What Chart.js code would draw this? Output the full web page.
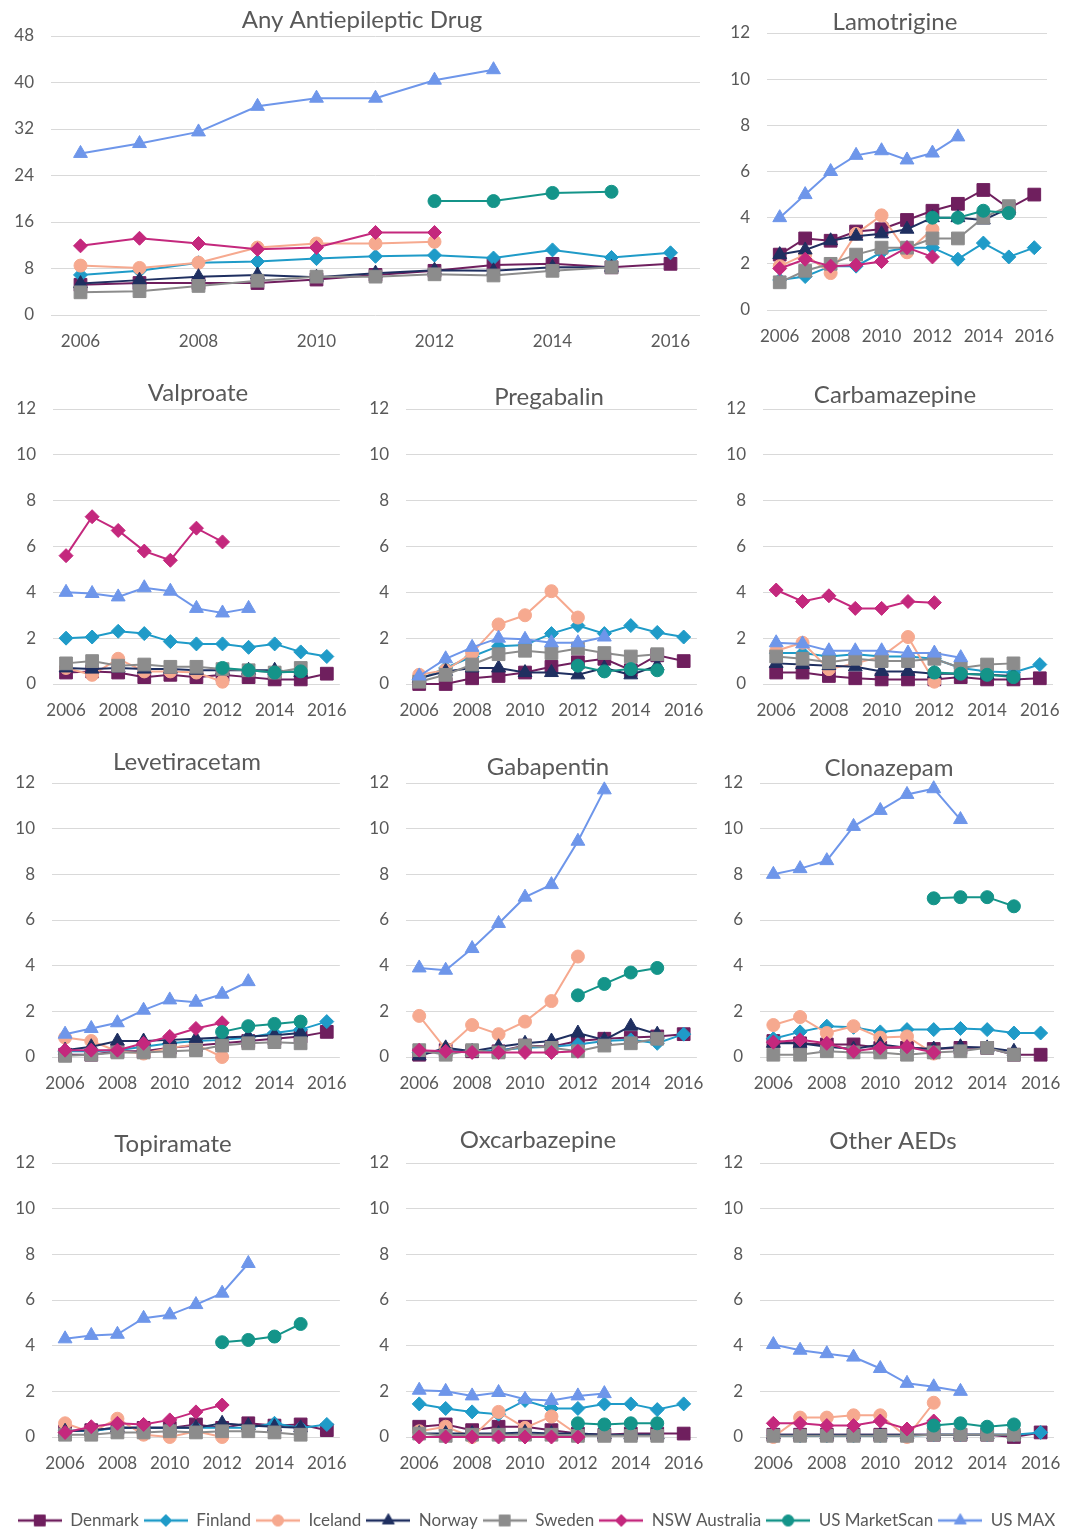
<!DOCTYPE html>
<html><head><meta charset="utf-8">
<script src="https://cdn.jsdelivr.net/npm/chart.js@4.4.1/dist/chart.umd.min.js"></script>
<style>
html,body{margin:0;padding:0;background:#fff;}
body{width:1073px;height:1532px;position:relative;overflow:hidden;font-family:Lato,sans-serif;}
.p{position:absolute;}
.p canvas{display:block;}
</style></head><body>
<script>
const N = null;
const years = ['2006','2007','2008','2009','2010','2011','2012','2013','2014','2015','2016'];
const countries = ['Denmark','Finland','Iceland','Norway','Sweden','NSW Australia','US MarketScan','US MAX'];

// rows: Denmark, Finland, Iceland, Norway, Sweden, NSW Australia, US MarketScan, US MAX
const anyAED = [
  [5.2,5.5,5.5,5.5,6.1,6.9,7.6,8.6,8.8,8.2,8.8],
  [6.9,7.6,9.0,9.2,9.7,10.1,10.3,9.8,11.2,9.9,10.7],
  [8.5,8.1,9.0,11.6,12.3,12.3,12.6,N,N,N,N],
  [5.4,6.0,6.6,6.9,6.5,7.2,7.7,7.6,8.2,8.2,N],
  [3.9,4.1,5.0,5.9,6.6,6.6,7.0,6.8,7.6,8.2,N],
  [11.9,13.2,12.3,11.3,11.6,14.2,14.2,N,N,N,N],
  [N,N,N,N,N,N,19.6,19.6,21.0,21.2,N],
  [27.8,29.5,31.5,35.9,37.3,37.3,40.4,42.2,N,N,N]
];
const lamotrigine = [
  [2.4,3.1,3.0,3.4,3.5,3.9,4.3,4.6,5.2,4.4,5.0],
  [1.3,1.45,1.9,1.9,2.5,2.7,2.7,2.2,2.9,2.3,2.7],
  [1.9,2.4,1.6,3.3,4.1,2.5,3.5,N,N,N,N],
  [2.4,2.6,3.0,3.2,3.3,3.5,4.0,4.0,3.9,4.4,N],
  [1.2,1.7,2.0,2.4,2.7,2.7,3.1,3.1,4.0,4.5,N],
  [1.8,2.2,1.9,1.95,2.1,2.7,2.3,N,N,N,N],
  [N,N,N,N,N,N,4.0,4.0,4.3,4.2,N],
  [4.0,5.0,6.0,6.7,6.9,6.5,6.8,7.5,N,N,N]
];
const valproate = [
  [0.5,0.55,0.5,0.3,0.4,0.3,0.4,0.3,0.2,0.2,0.45],
  [2.0,2.05,2.3,2.2,1.85,1.75,1.75,1.6,1.75,1.4,1.2],
  [0.7,0.4,1.1,0.55,0.55,0.5,0.1,N,N,N,N],
  [0.7,0.65,0.7,0.65,0.65,0.6,0.6,0.6,0.6,0.5,N],
  [0.9,1.0,0.8,0.85,0.75,0.75,0.65,0.6,0.5,0.7,N],
  [5.6,7.3,6.7,5.8,5.4,6.8,6.2,N,N,N,N],
  [N,N,N,N,N,N,0.7,0.6,0.5,0.55,N],
  [4.0,3.95,3.8,4.2,4.05,3.3,3.1,3.3,N,N,N]
];
const pregabalin = [
  [0.0,0.0,0.25,0.35,0.5,0.75,0.95,1.1,0.6,1.25,1.0],
  [0.2,0.7,1.2,1.65,1.7,2.2,2.55,2.2,2.55,2.25,2.05],
  [0.4,0.6,1.35,2.6,3.0,4.05,2.9,N,N,N,N],
  [0.25,0.55,0.7,0.7,0.5,0.5,0.4,0.7,0.4,0.8,N],
  [0.1,0.4,0.85,1.3,1.45,1.35,1.55,1.35,1.2,1.3,N],
  [N,N,N,N,N,N,N,N,N,N,N],
  [N,N,N,N,N,N,0.8,0.55,0.65,0.6,N],
  [0.35,1.1,1.6,2.0,1.95,1.8,1.8,2.05,N,N,N]
];
const carbamazepine = [
  [0.5,0.5,0.35,0.25,0.2,0.2,0.2,0.3,0.2,0.2,0.25],
  [1.35,1.35,1.2,1.3,1.2,1.2,1.1,0.7,0.55,0.5,0.85],
  [1.45,1.8,0.65,0.9,1.2,2.05,0.1,N,N,N,N],
  [0.9,0.85,0.8,0.75,0.55,0.55,0.45,0.45,0.4,0.35,N],
  [1.2,1.1,0.95,1.1,1.0,1.0,1.1,0.7,0.85,0.9,N],
  [4.1,3.6,3.85,3.3,3.3,3.6,3.55,N,N,N,N],
  [N,N,N,N,N,N,0.5,0.45,0.4,0.3,N],
  [1.8,1.75,1.45,1.45,1.45,1.35,1.35,1.15,N,N,N]
];
const levetiracetam = [
  [0.1,0.1,0.25,0.25,0.4,0.5,0.6,0.7,0.8,0.9,1.1],
  [0.25,0.25,0.3,0.45,0.6,0.7,0.75,0.85,1.05,1.2,1.55],
  [0.85,0.7,0.25,0.15,0.4,0.55,0.0,N,N,N,N],
  [0.3,0.45,0.7,0.7,0.75,0.8,0.85,0.9,0.95,1.05,N],
  [0.05,0.1,0.2,0.2,0.25,0.3,0.5,0.6,0.65,0.6,N],
  [0.3,0.3,0.3,0.6,0.9,1.25,1.5,N,N,N,N],
  [N,N,N,N,N,N,1.1,1.35,1.45,1.55,N],
  [1.0,1.25,1.5,2.05,2.5,2.4,2.75,3.3,N,N,N]
];
const gabapentin = [
  [0.1,0.3,0.25,0.25,0.5,0.45,0.7,0.8,0.85,0.9,1.0],
  [0.2,0.25,0.25,0.3,0.4,0.45,0.55,0.7,0.75,0.6,1.0],
  [1.8,0.35,1.4,1.0,1.55,2.45,4.4,N,N,N,N],
  [0.05,0.4,0.25,0.45,0.6,0.7,1.05,0.75,1.35,1.0,N],
  [0.3,0.1,0.3,0.2,0.5,0.4,0.25,0.5,0.6,0.8,N],
  [0.3,0.25,0.2,0.2,0.2,0.2,0.25,N,N,N,N],
  [N,N,N,N,N,N,2.7,3.2,3.7,3.9,N],
  [3.9,3.8,4.75,5.85,7.0,7.55,9.45,11.7,N,N,N]
];
const clonazepam = [
  [0.7,0.6,0.55,0.55,0.4,0.4,0.35,0.4,0.4,0.1,0.1],
  [0.8,1.1,1.35,1.3,1.1,1.2,1.2,1.25,1.2,1.05,1.05],
  [1.4,1.75,1.05,1.35,0.85,0.9,0.15,N,N,N,N],
  [0.6,0.6,0.45,0.35,0.55,0.4,0.35,0.45,0.4,0.25,N],
  [0.1,0.1,0.25,0.2,0.2,0.1,0.2,0.25,0.4,0.1,N],
  [0.65,0.75,0.6,0.25,0.4,0.45,0.2,N,N,N,N],
  [N,N,N,N,N,N,6.95,7.0,7.0,6.6,N],
  [8.0,8.25,8.6,10.1,10.8,11.5,11.75,10.4,N,N,N]
];
const topiramate = [
  [0.25,0.3,0.4,0.4,0.4,0.55,0.4,0.6,0.5,0.55,0.3],
  [0.3,0.25,0.4,0.4,0.4,0.4,0.4,0.4,0.6,0.4,0.55],
  [0.6,0.2,0.8,0.1,0.0,0.25,0.0,N,N,N,N],
  [0.25,0.3,0.4,0.4,0.4,0.4,0.6,0.5,0.45,0.4,N],
  [0.1,0.1,0.2,0.2,0.25,0.2,0.25,0.25,0.2,0.1,N],
  [0.2,0.45,0.6,0.55,0.75,1.1,1.4,N,N,N,N],
  [N,N,N,N,N,N,4.15,4.25,4.4,4.95,N],
  [4.3,4.45,4.5,5.2,5.35,5.8,6.3,7.6,N,N,N]
];
const oxcarbazepine = [
  [0.45,0.55,0.3,0.45,0.45,0.3,0.15,0.1,0.15,0.15,0.15],
  [1.45,1.25,1.1,1.0,1.6,1.25,1.25,1.45,1.45,1.2,1.45],
  [0.25,0.45,0.0,1.1,0.4,0.9,0.1,N,N,N,N],
  [0.15,0.15,0.15,0.15,0.2,0.15,0.15,0.1,0.1,0.1,N],
  [0.15,0.05,0.1,0.1,0.1,0.1,0.05,0.05,0.05,0.05,N],
  [0.0,0.0,0.0,0.0,0.0,0.0,0.0,N,N,N,N],
  [N,N,N,N,N,N,0.6,0.55,0.6,0.6,N],
  [2.05,2.0,1.8,1.95,1.65,1.6,1.8,1.9,N,N,N]
];
const otherAEDs = [
  [0.1,0.1,0.1,0.1,0.1,0.1,0.1,0.1,0.1,0.0,0.2],
  [0.05,0.05,0.05,0.05,0.05,0.05,0.1,0.1,0.1,0.1,0.2],
  [0.0,0.85,0.85,0.95,0.95,0.0,1.5,N,N,N,N],
  [0.1,0.1,0.1,0.1,0.1,0.1,0.1,0.1,0.1,0.1,N],
  [0.05,0.05,0.05,0.05,0.05,0.05,0.1,0.1,0.1,0.1,N],
  [0.6,0.6,0.5,0.5,0.7,0.35,0.7,N,N,N,N],
  [N,N,N,N,N,N,0.5,0.6,0.45,0.55,N],
  [4.05,3.8,3.65,3.5,3.0,2.35,2.2,2.0,N,N,N]
];

// ---- styling / layout (not data) ----
const seriesStyles = [
  {color:'#6f1f5e', shape:'rect', r:9},
  {color:'#1f9bc8', shape:'rectRot', r:7},
  {color:'#f6a98f', shape:'circle', r:6.5},
  {color:'#1f2f60', shape:'triangle', r:8},
  {color:'#8c8c8c', shape:'rect', r:9},
  {color:'#c4287d', shape:'rectRot', r:7},
  {color:'#149489', shape:'circle', r:6.5},
  {color:'#6e96ea', shape:'triangle', r:8}
];
const TXT = '#595959';
const GRID = '#d9d9d9';
const FONT = 'Lato, "Open Sans", sans-serif';
const YW = 40, XH = 40;

const panels = [
  {data:anyAED, title:'Any Antiepileptic Drug', box:[0,0,712,362], area:[51,36,700,315], tx:362, ty:20, max:48, step:8},
  {data:lamotrigine, title:'Lamotrigine', box:[712,0,361,362], area:[767,33,1047,310], tx:895, ty:22, max:12, step:2},
  {data:valproate, title:'Valproate', box:[0,365,355,370], area:[53,409,345,684], tx:198, ty:393, max:12, step:2},
  {data:pregabalin, title:'Pregabalin', box:[355,365,357,370], area:[406,409,699,684], tx:549, ty:397, max:12, step:2},
  {data:carbamazepine, title:'Carbamazepine', box:[712,365,361,370], area:[763,409,1053,684], tx:895, ty:395, max:12, step:2},
  {data:levetiracetam, title:'Levetiracetam', box:[0,735,355,375], area:[52,783,344,1057], tx:187, ty:762, max:12, step:2},
  {data:gabapentin, title:'Gabapentin', box:[355,735,357,375], area:[406,783,699,1057], tx:548, ty:767, max:12, step:2},
  {data:clonazepam, title:'Clonazepam', box:[712,735,361,375], area:[760,783,1054,1057], tx:889, ty:768, max:12, step:2},
  {data:topiramate, title:'Topiramate', box:[0,1112,355,378], area:[52,1163,345,1437], tx:173, ty:1144, max:12, step:2},
  {data:oxcarbazepine, title:'Oxcarbazepine', box:[355,1112,357,378], area:[406,1163,699,1437], tx:538, ty:1140, max:12, step:2},
  {data:otherAEDs, title:'Other AEDs', box:[712,1112,361,378], area:[760,1163,1054,1437], tx:893, ty:1141, max:12, step:2}
];

const panelTitle = {
  id:'panelTitle',
  afterDraw(chart, args, opts){
    if(!opts || !opts.text) return;
    const ctx = chart.ctx;
    ctx.save();
    ctx.font = '24px ' + FONT;
    ctx.fillStyle = TXT;
    ctx.textAlign = 'center';
    ctx.textBaseline = 'middle';
    ctx.fillText(opts.text, opts.x, opts.y);
    ctx.restore();
  }
};

function makeCanvas(x,y,w,h){
  const d = document.createElement('div');
  d.className = 'p';
  d.style.left = x+'px'; d.style.top = y+'px';
  d.style.width = w+'px'; d.style.height = h+'px';
  const c = document.createElement('canvas');
  c.width = w; c.height = h;
  c.style.width = w+'px'; c.style.height = h+'px';
  d.appendChild(c);
  document.body.appendChild(d);
  return c;
}

panels.forEach(p => {
  const [x0,y0,w,h] = p.box;
  const [l,t,r,b] = p.area;
  const c = makeCanvas(x0,y0,w,h);
  const datasets = p.data.map((vals,i) => {
    const s = seriesStyles[i];
    return {
      label: countries[i],
      data: vals,
      borderColor: s.color,
      backgroundColor: s.color,
      pointBackgroundColor: s.color,
      pointBorderColor: s.color,
      borderWidth: 2,
      pointStyle: s.shape,
      pointRadius: s.r,
      pointBorderWidth: 1,
      pointHoverRadius: s.r,
      tension: 0,
      spanGaps: false,
      clip: false,
      order: 8 - i
    };
  });
  new Chart(c, {
    type:'line',
    data:{labels: years, datasets},
    plugins:[panelTitle],
    options:{
      responsive:false,
      animation:false,
      devicePixelRatio:1,
      events:[],
      layout:{padding:{left: l - x0 - YW, top: t - y0, right: x0 + w - r, bottom: y0 + h - b - XH}},
      plugins:{
        legend:{display:false},
        tooltip:{enabled:false},
        title:{display:false},
        panelTitle:{text:p.title, x:p.tx - x0, y:p.ty - y0}
      },
      scales:{
        x:{
          type:'category',
          offset:true,
          grid:{display:false},
          border:{display:false},
          ticks:{
            autoSkip:false, maxRotation:0, minRotation:0, padding:8,
            color:TXT, font:{family:FONT, size:17},
            callback:function(v,i){ return i % 2 === 0 ? this.getLabelForValue(v) : ''; }
          },
          afterFit:(s)=>{ s.height = XH; }
        },
        y:{
          min:0, max:p.max,
          grid:{color:GRID, lineWidth:1, drawTicks:false},
          border:{display:false},
          ticks:{stepSize:p.step, padding:17, color:TXT, font:{family:FONT, size:17}},
          afterFit:(s)=>{ s.width = YW; }
        }
      }
    }
  });
});

// ---- legend ----
function markerImage(s){
  const c = document.createElement('canvas');
  c.width = 44; c.height = 18;
  const g = c.getContext('2d');
  g.strokeStyle = s.color; g.fillStyle = s.color;
  g.lineWidth = 2.5;
  g.beginPath(); g.moveTo(0,9); g.lineTo(44,9); g.stroke();
  g.lineWidth = 1;
  Chart.helpers.drawPoint(g, {pointStyle:s.shape, radius:s.r*0.85, borderWidth:1, rotation:0}, 22, 9);
  return c;
}
const lc = makeCanvas(0,1507,1073,80);
new Chart(lc, {
  type:'line',
  data:{labels:[], datasets: countries.map((name,i)=>({
    label:name, data:[], borderColor:seriesStyles[i].color, backgroundColor:seriesStyles[i].color,
    pointStyle: markerImage(seriesStyles[i])
  }))},
  options:{
    responsive:false, animation:false, devicePixelRatio:1, events:[],
    layout:{padding:0},
    scales:{x:{display:false}, y:{display:false}},
    plugins:{
      tooltip:{enabled:false},
      legend:{
        display:true, position:'top', align:'center',
        labels:{usePointStyle:true, pointStyleWidth:44, padding:5, color:TXT, font:{family:FONT, size:17}}
      }
    }
  }
});
</script>
</body></html>
